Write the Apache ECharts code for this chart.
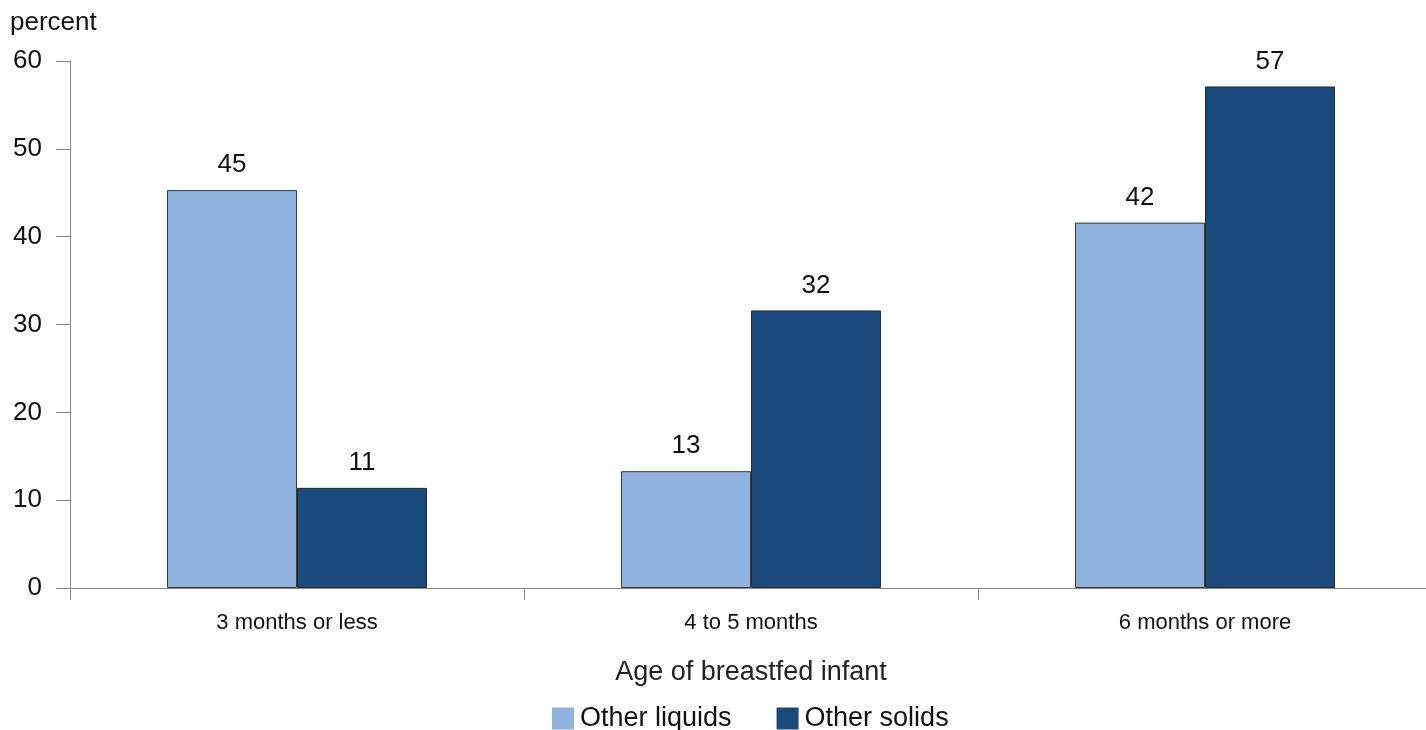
<!DOCTYPE html>
<html>
<head>
<meta charset="utf-8">
<script src="https://cdn.jsdelivr.net/npm/echarts@6/dist/echarts.min.js"></script>
<style>
  html, body { margin: 0; padding: 0; background: #fff; }
  #main { width: 1426px; height: 730px; }
</style>
</head>
<body>
<div id="main"></div>
<script>
var categories = ['3 months or less', '4 to 5 months', '6 months or more'];
var liquids = [45.3, 13.3, 41.6];
var solids = [11.4, 31.6, 57.1];
var seriesNames = ['Other liquids', 'Other solids'];

var myChart = echarts.init(document.getElementById('main'));

var font = 'Liberation Sans, Arial, sans-serif';

var barLabel = {
    show: true,
    position: 'top',
    distance: 12,
    color: '#111',
    fontSize: 26,
    fontFamily: font,
    formatter: function (p) { return Math.round(p.value); }
};

option = {
    animation: false,
    textStyle: { fontFamily: font },
    grid: { left: 70, width: 1362, top: 61, bottom: 142, outerBoundsMode: 'none' },
    graphic: [{
        type: 'text',
        left: 10,
        top: 10,
        style: { text: 'percent', fontSize: 26, fill: '#111', fontFamily: font }
    }],
    legend: {
        top: 705,
        left: 552,
        padding: 0,
        itemWidth: 22,
        itemHeight: 22,
        itemGap: 45,
        icon: 'rect',
        itemStyle: { borderWidth: 0 },
        textStyle: { fontSize: 27, color: '#111', fontFamily: font, padding: [0, 0, 0, 1] },
        data: seriesNames
    },
    xAxis: {
        type: 'category',
        data: categories,
        name: 'Age of breastfed infant',
        nameLocation: 'middle',
        nameGap: 71,
        nameTextStyle: { fontSize: 27, color: '#222', fontFamily: font },
        axisLine: { lineStyle: { color: '#888', width: 1 } },
        axisTick: { show: true, length: 12, lineStyle: { color: '#888' } },
        axisLabel: { fontSize: 22, color: '#111', margin: 24, fontFamily: font }
    },
    yAxis: {
        type: 'value',
        min: 0,
        max: 60,
        interval: 10,
        splitLine: { show: false },
        axisLine: { show: true, lineStyle: { color: '#888', width: 1 } },
        axisTick: { show: true, length: 14, lineStyle: { color: '#888' } },
        axisLabel: { fontSize: 26, color: '#111', margin: 28, fontFamily: font }
    },
    series: [{
        name: seriesNames[0],
        type: 'bar',
        data: liquids,
        barWidth: 130,
        barGap: '0%',
        itemStyle: { color: '#8fb3de', borderColor: '#3a3a3a', borderWidth: 1 },
        label: barLabel
    }, {
        name: seriesNames[1],
        type: 'bar',
        data: solids,
        barWidth: 130,
        itemStyle: { color: '#1a4a7c', borderColor: '#2a2a2a', borderWidth: 1 },
        label: barLabel
    }]
};

myChart.setOption(option);
</script>
</body>
</html>
